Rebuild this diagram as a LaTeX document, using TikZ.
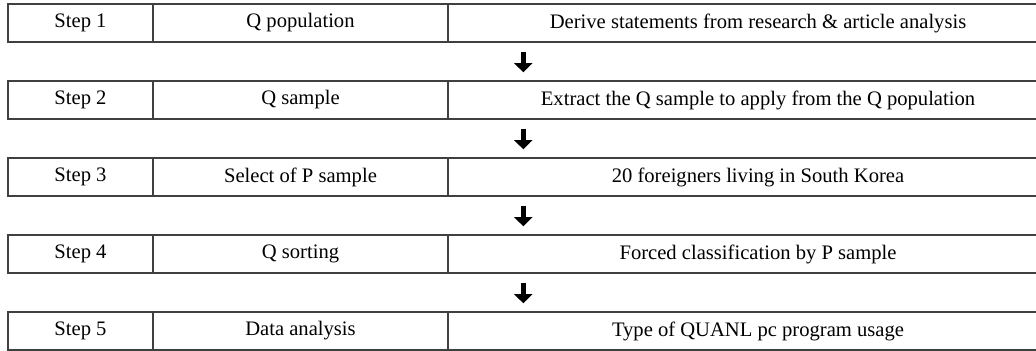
\documentclass[tikz,border=0pt]{standalone}
\usepackage{fontspec}
\setmainfont{Liberation Serif}
\usetikzlibrary{calc,arrows.meta}

\begin{document}
\begin{tikzpicture}[x=0.5pt,y=-0.5pt,
    cell/.style={draw=black!75,line width=0.7pt,inner sep=0pt,minimum height=19pt,
      font=\fontsize{10.3}{12}\selectfont},
    stepcol/.style={cell,minimum width=72.5pt},
    namecol/.style={cell,minimum width=147.5pt},
    desccol/.style={cell,minimum width=310pt},
    downarrow/.style={line width=2.6pt,-{Triangle[width=9pt,length=4.6pt]}}]
\clip (0,0) rectangle (1036,351);
    \node[stepcol] (s1a) at (80.5,23) {Step 1};
    \node[namecol] (s1b) at (300.5,23) {Q population};
    \node[desccol] (s1c) at (758,23) {Derive statements from research \& article analysis};
    \node[stepcol] (s2a) at (80.5,100) {Step 2};
    \node[namecol] (s2b) at (300.5,100) {Q sample};
    \node[desccol] (s2c) at (758,100) {Extract the Q sample to apply from the Q population};
    \node[stepcol] (s3a) at (80.5,177) {Step 3};
    \node[namecol] (s3b) at (300.5,177) {Select of P sample};
    \node[desccol] (s3c) at (758,177) {20 foreigners living in South Korea};
    \node[stepcol] (s4a) at (80.5,254) {Step 4};
    \node[namecol] (s4b) at (300.5,254) {Q sorting};
    \node[desccol] (s4c) at (758,254) {Forced classification by P sample};
    \node[stepcol] (s5a) at (80.5,331) {Step 5};
    \node[namecol] (s5b) at (300.5,331) {Data analysis};
    \node[desccol] (s5c) at (758,331) {Type of QUANL pc program usage};
    % arrows between the steps
    \draw[downarrow] ($(s1c.south west)+(76,9)$) -- ($(s2c.north west)+(76,-8)$);
    \draw[downarrow] ($(s2c.south west)+(76,9)$) -- ($(s3c.north west)+(76,-8)$);
    \draw[downarrow] ($(s3c.south west)+(76,9)$) -- ($(s4c.north west)+(76,-8)$);
    \draw[downarrow] ($(s4c.south west)+(76,9)$) -- ($(s5c.north west)+(76,-8)$);
\end{tikzpicture}
\end{document}
